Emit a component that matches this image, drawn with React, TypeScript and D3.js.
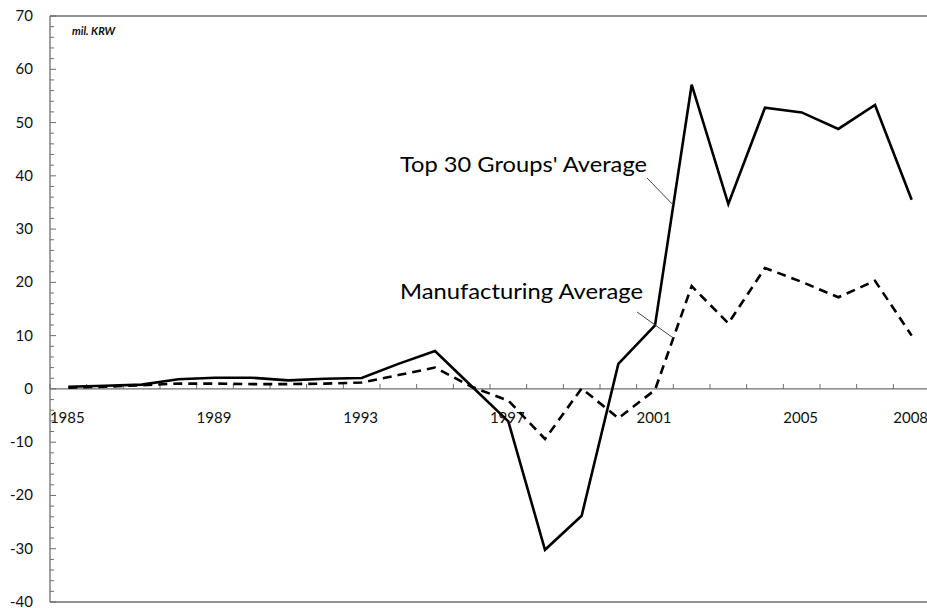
import React from "react";
import * as d3 from "d3";

const years: number[] = Array.from({ length: 24 }, (_, i) => 1985 + i);
const top30: number[] = [0.4, 0.6, 0.8, 1.8, 2.1, 2.1, 1.6, 1.9, 2.05, 4.7, 7.1, 0.5, -6.1, -30.2, -23.8, 4.7, 11.9, 57.1, 34.7, 52.8, 51.9, 48.8, 53.3, 35.5];
const manuf: number[] = [0.25, 0.4, 0.7, 1.0, 1.0, 0.9, 0.9, 1.0, 1.2, 2.6, 4.0, 0.4, -2.2, -9.4, 0.1, -5.5, -0.2, 19.3, 12.3, 22.7, 20.1, 17.2, 20.3, 10.0];
const xLabelYears: number[] = [1985, 1989, 1993, 1997, 2001, 2005, 2008];
const yTicks: number[] = [70, 60, 50, 40, 30, 20, 10, 0, -10, -20, -30, -40];
const unitLabel = "mil. KRW";
const topLabel = "Top 30 Groups' Average";
const manufLabel = "Manufacturing Average";

export default function App() {
  const W = 927, H = 608;
  const left = 50, top = 16, bottom = 602, right = 930;
  const x = d3.scaleBand<number>().domain(years).range([left, right]).paddingInner(0).paddingOuter(0);
  const y = d3.scaleLinear().domain([-40, 70]).range([bottom, top]);
  const cx = (yr: number) => (x(yr) as number) + x.bandwidth() / 2;
  const line = d3.line<number>().x((_, i) => cx(years[i])).y((d) => y(d));
  const minor = d3.range(-40, 70.001, 2);
  const font = "Lato, 'Open Sans', sans-serif";
  const axisColor = "#6e6e6e";
  const y0 = y(0);

  // leader anchors on the series
  const t01 = 0.5; // fraction between 2001 and 2002
  const topAnchorX = cx(2001) + (cx(2002) - cx(2001)) * t01;
  const topAnchorY = y(top30[16] + (top30[17] - top30[16]) * t01);
  const mAnchorX = cx(2001) + (cx(2002) - cx(2001)) * 0.5;
  const mAnchorY = y(manuf[16] + (manuf[17] - manuf[16]) * 0.5);

  return (
    <svg width={W} height={H} style={{ position: "absolute", left: 0, top: 0, background: "#fff" }}>
      <rect x={0} y={0} width={W} height={H} fill="#fff" />
      {/* plot border */}
      <line x1={left} x2={W} y1={top} y2={top} stroke={axisColor} strokeWidth={1.3} />
      <line x1={left} x2={W} y1={bottom} y2={bottom} stroke={axisColor} strokeWidth={1.3} />
      <line x1={left} x2={left} y1={top} y2={bottom} stroke={axisColor} strokeWidth={1.3} />
      {/* y minor ticks */}
      {minor.map((v) => (
        <line key={"m" + v} x1={left} x2={left + (v % 10 === 0 ? 6 : 4)} y1={y(v)} y2={y(v)} stroke={axisColor} strokeWidth={1} />
      ))}
      {/* y labels */}
      {yTicks.map((v) => (
        <text key={"yl" + v} x={33} y={y(v) + 5} textAnchor="end" fontFamily={font} fontSize={15} fill="#111">
          {v}
        </text>
      ))}
      {/* x axis at zero */}
      <line x1={left} x2={W} y1={y0} y2={y0} stroke={axisColor} strokeWidth={1.3} />
      {years.map((yr) => (
        <line key={"xt" + yr} x1={x(yr) as number} x2={x(yr) as number} y1={y0} y2={y0 - 5} stroke={axisColor} strokeWidth={1} />
      ))}
      {xLabelYears.map((yr) => (
        <text key={"xl" + yr} x={cx(yr) - 1} y={y0 + 34} textAnchor="middle" fontFamily={font} fontSize={15} fill="#111">
          {yr}
        </text>
      ))}
      {/* unit label */}
      <text x={72} y={35} fontFamily={font} fontSize={11} fontStyle="italic" fontWeight="bold" fill="#111">
        {unitLabel}
      </text>
      {/* series */}
      <path d={line(manuf) || ""} fill="none" stroke="#000" strokeWidth={2.6} strokeDasharray="9,6" strokeLinejoin="miter" />
      <path d={line(top30) || ""} fill="none" stroke="#000" strokeWidth={2.6} strokeLinejoin="miter" />
      {/* annotations */}
      <text x={400} y={172} fontFamily={font} fontSize={22} fill="#000" textLength={247} lengthAdjust="spacingAndGlyphs">
        {topLabel}
      </text>
      <line x1={647} y1={178} x2={topAnchorX} y2={topAnchorY} stroke="#444" strokeWidth={1} />
      <text x={400} y={299} fontFamily={font} fontSize={22} fill="#000" textLength={243} lengthAdjust="spacingAndGlyphs">
        {manufLabel}
      </text>
      <line x1={637} y1={312} x2={mAnchorX} y2={mAnchorY} stroke="#444" strokeWidth={1} />
    </svg>
  );
}
